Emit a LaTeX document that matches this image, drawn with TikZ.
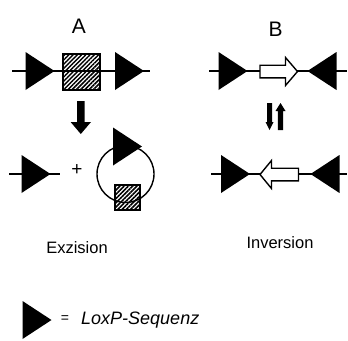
\documentclass[tikz,border=0pt]{standalone}
\usepackage{fontspec}
\setmainfont{Liberation Sans}
\usetikzlibrary{patterns.meta}

\tikzset{
  dnaline/.style={line width=1.4pt},
  hatchbox/.style={draw, line width=1.7pt, inner sep=0pt,
    pattern={Lines[angle=45,distance=3pt,line width=1.5pt]}},
  openarrow/.style={draw, fill=white, line width=1.4pt, line join=miter},
  blockarrow/.style={fill=black},
  ring/.style={draw, line width=1.4pt},
  biglabel/.style={inner sep=0pt, font=\fontsize{21}{24}\selectfont},
  caption/.style={inner sep=0pt, font=\fontsize{16.5}{19}\selectfont},
  legendtext/.style={inner sep=0pt, font=\fontsize{18}{21}\selectfont\itshape},
  % loxP site: filled triangle pointing right / left
  loxright/.pic={\fill (-14.5,-19) -- (14.5,0) -- (-14.5,19) -- cycle;},
  loxleft/.pic={\fill (14.5,-19) -- (-14.5,0) -- (14.5,19) -- cycle;}
}

\begin{document}
\begin{tikzpicture}[x=1pt,y=-1pt]
\useasboundingbox (0,0) rectangle (348,340);

% ---------------- A: excision ----------------
\node[biglabel, anchor=base] (labA) at (79,33) {A};

\coordinate (a1) at (12,71);
\coordinate (a2) at (150,71);
\draw[dnaline] (a1) -- (a2);
\pic at (40,71) {loxright};
\pic at (129.5,71) {loxright};
\node[hatchbox, minimum width=37.5pt, minimum height=36pt] (boxA) at (81.5,72) {};

% reaction arrow
\fill[blockarrow] (77,101) -- (84.6,101) -- (84.6,122) -- (91,122) -- (80.8,134)
  -- (70.6,122) -- (77,122) -- cycle;

% products
\coordinate (b1) at (9,174);
\coordinate (b2) at (60,174);
\draw[dnaline] (b1) -- (b2);
\pic at (36,174) {loxright};
\node[inner sep=0pt, font=\fontsize{19}{21}\selectfont] (plus) at (77,170) {+};
\node[circle, ring, minimum size=57pt, inner sep=0pt] (circ) at (125.5,174) {};
\pic at (127.5,146.5) {loxright};
\node[hatchbox, minimum width=25.5pt, minimum height=25.5pt] (boxC) at (127.5,197.5) {};

\node[caption, anchor=base] (exz) at (77,253) {Exzision};

% ---------------- B: inversion ----------------
\node[biglabel, anchor=base] (labB) at (275.5,36) {B};

\coordinate (c1) at (209,71);
\coordinate (c2) at (347,71);
\draw[dnaline] (c1) -- (c2);
\pic at (233,71) {loxright};
\pic at (322,71) {loxleft};
\draw[openarrow] (260,65.2) -- (285.5,65.2) -- (285.5,57.5) -- (297.5,71.5)
  -- (285.5,85.5) -- (285.5,77.8) -- (260,77.8) -- cycle;

% reversible reaction arrows
\fill[blockarrow] (267,103) -- (272,103) -- (272,122) -- (273.5,122) -- (269.5,130)
  -- (265.5,122) -- (267,122) -- cycle;
\fill[blockarrow] (277.8,130) -- (283.2,130) -- (283.2,111) -- (285.5,111) -- (280.5,103)
  -- (275.5,111) -- (277.8,111) -- cycle;

\coordinate (d1) at (211,174);
\coordinate (d2) at (347,174);
\draw[dnaline] (d1) -- (d2);
\pic at (235.5,174) {loxright};
\pic at (325,174) {loxleft};
\draw[openarrow] (260,174.5) -- (271.5,160.5) -- (271.5,168.2) -- (298.5,168.2)
  -- (298.5,180.8) -- (271.5,180.8) -- (271.5,188.5) -- cycle;

\node[caption, anchor=base] (inv) at (280,248) {Inversion};

% ---------------- legend ----------------
\pic at (37,320) {loxright};
\node[inner sep=0pt, font=\fontsize{14}{16}\selectfont] (eq) at (65,319) {=};
\node[legendtext, anchor=base west] (lox) at (81,324) {LoxP-Sequenz};
\end{tikzpicture}
\end{document}
